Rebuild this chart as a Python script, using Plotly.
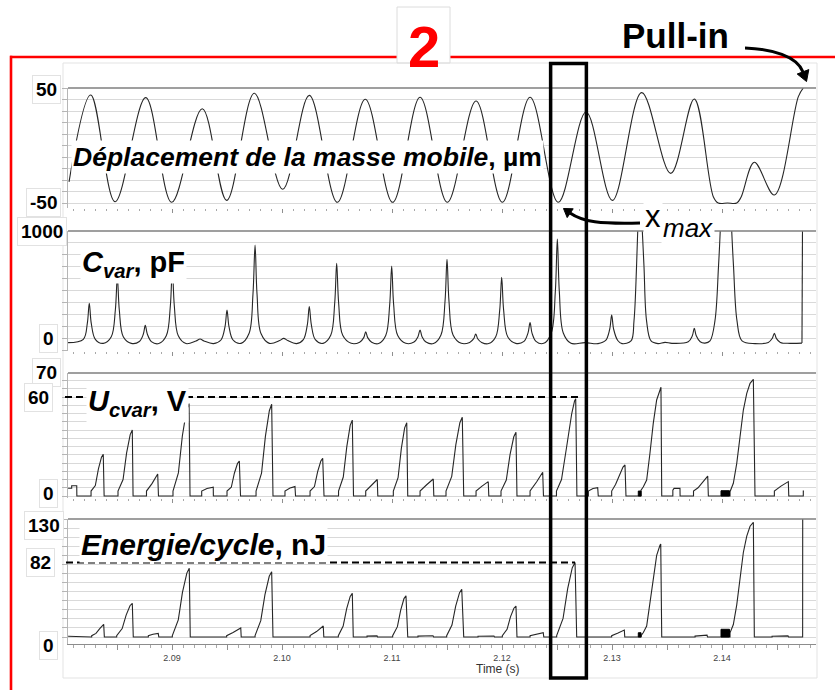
import plotly.graph_objects as go

W, H = 835, 690
FONT = "Liberation Sans, Arial, Helvetica, sans-serif"

# ---------------- data ----------------
# Displacement of the moving mass (um): turning points of the oscillation
disp_t = [2.08064, 2.08261, 2.08482, 2.08761, 2.08997, 2.09275, 2.09497, 2.09748,
          2.10006, 2.10248, 2.10503, 2.10757, 2.11006, 2.11255, 2.11503, 2.11764,
          2.12003, 2.12255, 2.12512, 2.12764, 2.13003, 2.13270, 2.13534, 2.13748,
          2.13921, 2.13966, 2.14050, 2.14134, 2.14173, 2.14294, 2.14476, 2.14694, 2.14739]
disp_um = [-31.7, 43.9, -48.9, 41.6, -49.4, 32.0, -47.7, 45.4,
           -38.0, 43.6, -49.4, 40.2, -49.4, 42.0, -49.4, 38.7,
           -49.4, 41.9, -49.4, 29.1, -47.7, 46.0, -24.2, 40.4,
           -44.5, -50.0, -50.0, -50.0, -45.0, -14.6, -43.0, 42.5, 50.0]

# Variable capacitance (pF)
cvar_t = [
    2.08055,
    2.08194, 2.08230, 2.08248, 2.08266, 2.08303,
    2.08375,
    2.08448, 2.08485, 2.08503, 2.08521, 2.08557,
    2.08630,
    2.08703, 2.08739, 2.08757, 2.08776, 2.08812,
    2.08880,
    2.08948, 2.08985, 2.09003, 2.09021, 2.09057,
    2.09127,
    2.09218, 2.09255, 2.09291,
    2.09377,
    2.09445, 2.09482, 2.09500, 2.09518, 2.09555,
    2.09627,
    2.09700, 2.09736, 2.09755, 2.09773, 2.09809,
    2.09885,
    2.09979, 2.10015, 2.10052,
    2.10132,
    2.10194, 2.10230, 2.10248, 2.10267, 2.10303,
    2.10373,
    2.10443, 2.10479, 2.10497, 2.10515, 2.10552,
    2.10629,
    2.10706, 2.10743, 2.10761, 2.10779, 2.10815,
    2.10879,
    2.10943, 2.10979, 2.10997, 2.11015, 2.11052,
    2.11125,
    2.11200, 2.11236, 2.11255, 2.11273, 2.11309,
    2.11377,
    2.11445, 2.11482, 2.11500, 2.11518, 2.11555,
    2.11630,
    2.11706, 2.11743, 2.11761, 2.11779, 2.11815,
    2.11879,
    2.11943, 2.11979, 2.11997, 2.12015, 2.12052,
    2.12125,
    2.12200, 2.12236, 2.12255, 2.12273, 2.12309,
    2.12379,
    2.12448, 2.12485, 2.12503, 2.12521, 2.12557,
    2.12627, 2.12755, 2.12873,
    2.12942, 2.12979, 2.12997, 2.13015, 2.13052,
    2.13091,
    2.13173, 2.13200, 2.13223, 2.13236, 2.13255, 2.13273, 2.13291, 2.13314, 2.13355,
    2.13418, 2.13482, 2.13545,
    2.13693, 2.13730, 2.13748, 2.13766, 2.13802,
    2.13845,
    2.13891, 2.13936, 2.13968, 2.13986, 2.14036, 2.14086, 2.14105, 2.14136, 2.14182,
    2.14300,
    2.14421, 2.14457, 2.14476, 2.14494, 2.14530,
    2.14618, 2.14727, 2.14734,
]
cvar_pf = [
    66,
    94, 227, 395, 227, 94,
    60,
    116, 339, 618, 339, 116,
    60,
    75, 136, 211, 136, 75,
    58,
    123, 375, 690, 375, 123,
    58,
    80, 96, 80,
    58,
    88, 200, 339, 200, 88,
    60,
    142, 472, 883, 472, 142,
    60,
    83, 102, 83,
    58,
    91, 214, 367, 214, 91,
    60,
    127, 395, 730, 395, 127,
    60,
    70, 108, 157, 108, 70,
    58,
    125, 384, 707, 384, 125,
    60,
    71, 116, 172, 116, 71,
    58,
    130, 412, 763, 412, 130,
    60,
    68, 99, 138, 99, 68,
    58,
    115, 336, 612, 336, 115,
    60,
    77, 146, 233, 146, 77,
    60,
    147, 497, 933, 497, 147,
    60, 66, 58,
    84, 178, 297, 178, 84,
    58,
    80, 250, 700, 1050, 1400, 1050, 700, 250, 80,
    58, 68, 60,
    73, 123, 186, 123, 73,
    62,
    80, 250, 700, 1050, 2500, 1050, 700, 250, 80,
    58,
    68, 102, 144, 102, 68,
    60, 62, 1500,
]

# Voltage across Cvar (V)
ucvar_t = [
    2.08055, 2.08088, 2.08088, 2.08134, 2.08135,
    2.08264, 2.08264, 2.08303, 2.08331, 2.08359, 2.08375, 2.08383,
    2.08509, 2.08509, 2.08555, 2.08587, 2.08620, 2.08639, 2.08646,
    2.08768, 2.08768, 2.08818, 2.08870, 2.08877,
    2.09009, 2.09009, 2.09058, 2.09094, 2.09132, 2.09155, 2.09164,
    2.09270, 2.09270, 2.09318, 2.09375, 2.09376,
    2.09500, 2.09500, 2.09539, 2.09567, 2.09595, 2.09612, 2.09623,
    2.09764, 2.09764, 2.09814, 2.09849, 2.09885, 2.09906, 2.09918,
    2.10027, 2.10027, 2.10073, 2.10118, 2.10123,
    2.10255, 2.10255, 2.10295, 2.10324, 2.10353, 2.10370, 2.10382,
    2.10514, 2.10514, 2.10557, 2.10589, 2.10620, 2.10639, 2.10650,
    2.10761, 2.10761, 2.10814, 2.10866, 2.10871,
    2.11012, 2.11012, 2.11055, 2.11085, 2.11115, 2.11134, 2.11143,
    2.11255, 2.11255, 2.11315, 2.11375, 2.11380,
    2.11491, 2.11491, 2.11543, 2.11580, 2.11617, 2.11639, 2.11652,
    2.11764, 2.11764, 2.11818, 2.11875, 2.11880,
    2.11991, 2.11991, 2.12039, 2.12073, 2.12107, 2.12127, 2.12136,
    2.12255, 2.12255, 2.12314, 2.12370, 2.12377,
    2.12495, 2.12495, 2.12541, 2.12588, 2.12634, 2.12659, 2.12670, 2.12681,
    2.12785, 2.12785, 2.12827, 2.12870, 2.12875,
    2.12997, 2.12997, 2.13032, 2.13068, 2.13100, 2.13118, 2.13127,
    2.13264, 2.13264, 2.13285, 2.13315, 2.13345, 2.13375, 2.13406, 2.13436, 2.13445, 2.13452,
    2.13553, 2.13553, 2.13564, 2.13618, 2.13619,
    2.13741, 2.13741, 2.13782, 2.13827, 2.13870, 2.13876,
    2.14073, 2.14073, 2.14103, 2.14134, 2.14164, 2.14194, 2.14225, 2.14255, 2.14285, 2.14300,
    2.14476, 2.14476, 2.14536, 2.14603, 2.14607,
    2.14739, 2.14739, 2.14745,
]
ucvar_v = [
    4.7, 4.7, 6.2, 6.2, 0,
    0, 3, 6.3, 16.4, 23.5, 25.3, 0,
    0, 3, 10, 26, 37.2, 40, 0,
    0, 3, 7.5, 13.3, 0,
    0, 3, 14, 36.4, 52, 56, 0,
    0, 3, 4.5, 5.3, 0,
    0, 3, 5.3, 13.8, 19.7, 21.2, 0,
    0, 3, 13.9, 36.1, 51.7, 55.6, 0,
    0, 3, 4.8, 5.7, 0,
    0, 3, 5.7, 14.8, 21.2, 22.8, 0,
    0, 3, 11.5, 29.9, 42.8, 46, 0,
    0, 3, 6.5, 10, 0,
    0, 3, 11.1, 28.9, 41.3, 44.4, 0,
    0, 3, 6.8, 10.3, 0,
    0, 3, 11.9, 31, 44.4, 47.7, 0,
    0, 3, 6, 8.7, 0,
    0, 3, 9.7, 25.1, 35.9, 38.6, 0,
    0, 3, 8.5, 14.4, 0,
    0, 3, 10, 30, 50, 57.5, 59, 0,
    0, 3, 4.6, 5, 0,
    0, 3, 7, 13, 17.5, 18.8, 0,
    0, 3.5, 5.6, 9.7, 25.9, 44, 58.2, 65.3, 65.9, 0,
    0, 3.6, 4.6, 4.6, 0,
    0, 3, 5, 9, 12.1, 0,
    0, 2.6, 7.7, 19.8, 35.9, 52.1, 62.2, 68.3, 70.7, 0,
    0, 3, 6, 8.7, 0,
    0, 3, 3,
]

# Harvested energy per cycle (nJ)
energy_t = [
    2.08055, 2.08100, 2.08101,
    2.08270, 2.08270, 2.08309, 2.08345, 2.08379, 2.08385,
    2.08497, 2.08497, 2.08547, 2.08583, 2.08618, 2.08639, 2.08648,
    2.08785, 2.08785, 2.08827, 2.08875, 2.08880,
    2.09003, 2.09003, 2.09057, 2.09095, 2.09135, 2.09157, 2.09166,
    2.09497, 2.09497, 2.09555, 2.09625, 2.09629,
    2.09755, 2.09755, 2.09807, 2.09845, 2.09884, 2.09906, 2.09918,
    2.10255, 2.10255, 2.10314, 2.10375, 2.10380,
    2.10512, 2.10512, 2.10556, 2.10588, 2.10620, 2.10639, 2.10648,
    2.10773, 2.10773, 2.10864, 2.10868,
    2.11006, 2.11006, 2.11049, 2.11079, 2.11109, 2.11127, 2.11143,
    2.11236, 2.11236, 2.11373, 2.11378,
    2.11497, 2.11497, 2.11545, 2.11579, 2.11614, 2.11634, 2.11652,
    2.11782, 2.11782, 2.11927, 2.11932,
    2.12003, 2.12003, 2.12046, 2.12077, 2.12108, 2.12127, 2.12136,
    2.12255, 2.12255, 2.12318, 2.12375, 2.12380,
    2.12497, 2.12497, 2.12555, 2.12597, 2.12639, 2.12664, 2.12679,
    2.12997, 2.12997, 2.13055, 2.13112, 2.13116,
    2.13264, 2.13264, 2.13285, 2.13315, 2.13345, 2.13375, 2.13406, 2.13436, 2.13443, 2.13452,
    2.13755, 2.13755, 2.13864, 2.13868,
    2.14073, 2.14073, 2.14103, 2.14134, 2.14164, 2.14194, 2.14225, 2.14255, 2.14285, 2.14294,
    2.14455, 2.14455, 2.14600, 2.14605,
    2.14733, 2.14734,
]
energy_nj = [
    0.8, 0.8, 0,
    0, 1.5, 4, 9.5, 14, 0,
    0, 1.5, 9.3, 24.1, 34.5, 37.1, 0,
    0, 1.5, 3, 4, 0,
    0, 1.5, 18.9, 49.2, 70.4, 75.7, 0,
    0, 1.5, 5, 9.9, 0,
    0, 1.5, 18, 46.7, 66.9, 71.9, 0,
    0, 1.5, 6, 12.1, 0,
    0, 1.5, 12, 31.3, 44.7, 48.1, 0,
    0, 1, 1.2, 0,
    0, 1.5, 11.4, 29.6, 42.3, 45.5, 0,
    0, 1, 1.3, 0,
    0, 1.5, 13.1, 34.1, 48.8, 52.5, 0,
    0, 0.8, 1, 0,
    0, 1.5, 8.5, 22.2, 31.7, 34.1, 0,
    0, 1.5, 3.5, 4.7, 0,
    0, 1.5, 20.5, 53.3, 76.3, 82, 0,
    0, 1.5, 4.5, 7.7, 0,
    0, 1.5, 5, 12, 38, 68, 90, 101, 102.4, 0,
    0, 1, 2, 0,
    0, 4.7, 13.8, 35.4, 64.2, 93.1, 111.1, 122, 126.3, 0,
    0, 0.8, 1.2, 0,
    0, 200,
]

# Fast switching bursts (drawn as solid blocks)
burst_t0 = [2.13239, 2.13991]
burst_t1 = [2.13264, 2.14068]
burst_u_top = [3.0, 3.2]
burst_e_top = [4.7, 8.5]

# Observation window around the maximum displacement cycle
window_t = [2.12442, 2.12767]

# Axes
x_range = [2.080545, 2.148545]
disp_range = [-54.35, 50]
cvar_range = [-4, 1000]
ucvar_range = [-1.21, 74.55]
energy_range = [-7.71, 130]
u_ref = 60
e_ref = 82
time_major = [2.085, 2.09, 2.095, 2.10, 2.105, 2.11, 2.115, 2.12, 2.125, 2.13, 2.135, 2.14, 2.145]
time_labels = ['', '2.09', '', '2.10', '', '2.11', '', '2.12', '', '2.13', '', '2.14', '']


# ---------------- helpers (pixel -> paper fraction) ----------------
def px_x(px):
    return px / W


def px_y(py):
    return 1 - py / H


ids = ['', '2', '3', '4']
fig = go.Figure()
line_style = dict(color='#262626', width=1.1)


def add_line(t, v, k, shape='linear'):
    fig.add_trace(go.Scatter(
        x=t, y=v, mode='lines', line=dict(line_style, shape=shape),
        xaxis='x' + ids[k], yaxis='y' + ids[k],
        hoverinfo='skip', showlegend=False))


add_line(disp_t, disp_um, 0, 'spline')
# smooth resonance peaks, then the straight pull-in jump at the end
add_line(cvar_t[:-1], cvar_pf[:-1], 1, 'spline')
add_line(cvar_t[-2:], cvar_pf[-2:], 1)
add_line(ucvar_t, ucvar_v, 2)
add_line(energy_t, energy_nj, 3)

for tops, k in ((burst_u_top, 2), (burst_e_top, 3)):
    for a, b, top in zip(burst_t0, burst_t1, tops):
        fig.add_trace(go.Scatter(
            x=[a, a, b, b, a], y=[0, top, top, 0, 0], mode='lines',
            fill='toself', fillcolor='black', line=dict(color='black', width=1),
            xaxis='x' + ids[k], yaxis='y' + ids[k],
            hoverinfo='skip', showlegend=False))

# ---------------- layout ----------------
panel_px = [(88, 208), (231, 351), (373, 498), (519, 644)]
y_ranges = [disp_range, cvar_range, ucvar_range, energy_range]
y_steps = [10, 100, 5, 10]
y_tick0 = [-50, 0, 0, 0]

layout = dict(width=W, height=H, margin=dict(l=0, r=0, t=0, b=0),
              paper_bgcolor='white', plot_bgcolor='rgba(0,0,0,0)',
              showlegend=False, font=dict(family=FONT))

for k in range(4):
    bottom = (k == 3)
    xa = dict(domain=[px_x(68), px_x(816)], range=x_range, anchor='y' + ids[k],
              showgrid=False, zeroline=False,
              tickmode='array', tickvals=time_major, ticktext=time_labels,
              ticks='outside', ticklen=5 if bottom else 4, tickcolor='#8f8f8f', tickwidth=1,
              minor=dict(ticks='outside', ticklen=3 if bottom else 2, tickmode='linear',
                         tick0=2.08, dtick=0.001, tickcolor='#a8a8a8', showgrid=False),
              showticklabels=bottom, showline=bottom, linecolor='#8c8c8c',
              tickfont=dict(size=9, color='#444444', family=FONT))
    if k > 0:
        xa['matches'] = 'x'
    top_px, bot_px = panel_px[k]
    ya = dict(domain=[px_y(bot_px), px_y(top_px)], range=y_ranges[k], anchor='x' + ids[k],
              tickmode='linear', tick0=y_tick0[k], dtick=y_steps[k],
              showgrid=True, gridcolor='#d9d9d9', gridwidth=1, zeroline=False,
              showticklabels=False, ticks='outside', ticklen=5, tickcolor='#b5b5b5',
              showline=True, linecolor='#b5b5b5', linewidth=1)
    layout['xaxis' + ids[k]] = xa
    layout['yaxis' + ids[k]] = ya

shapes = []
# darker top border of each panel
for k in range(4):
    shapes.append(dict(type='line', xref='x' + ids[k] + ' domain', yref='y' + ids[k] + ' domain',
                       x0=0, x1=1, y0=1, y1=1, line=dict(color='#7f7f7f', width=1.3)))

# reference levels
shapes.append(dict(type='line', xref='paper', yref='y3', x0=px_x(65), x1=px_x(579),
                   y0=u_ref, y1=u_ref, line=dict(color='black', width=2, dash='7px,4px')))
shapes.append(dict(type='line', xref='paper', yref='y4', x0=px_x(66), x1=px_x(575),
                   y0=e_ref, y1=e_ref, line=dict(color='black', width=2, dash='7px,4px')))

# outer light frame of the scope window
shapes.append(dict(type='rect', xref='paper', yref='paper', x0=px_x(63), x1=px_x(817),
                   y0=px_y(678), y1=px_y(63), line=dict(color='#e3e3e3', width=1), layer='below'))

# red frame
red = dict(color='#ff0000', width=2.6)
shapes.append(dict(type='line', xref='paper', yref='paper', x0=px_x(10), x1=px_x(397),
                   y0=px_y(57), y1=px_y(57), line=red))
shapes.append(dict(type='line', xref='paper', yref='paper', x0=px_x(450), x1=1,
                   y0=px_y(57), y1=px_y(57), line=red))
shapes.append(dict(type='line', xref='paper', yref='paper', x0=px_x(11), x1=px_x(11),
                   y0=px_y(55.7), y1=0, line=red))

# box around the panel number
shapes.append(dict(type='rect', xref='paper', yref='paper', x0=px_x(397), x1=px_x(450),
                   y0=px_y(63), y1=px_y(7), line=dict(color='#dcdcdc', width=1)))

# highlighted time window
shapes.append(dict(type='rect', xref='x', yref='paper', x0=window_t[0], x1=window_t[1],
                   y0=px_y(678), y1=px_y(63.5), line=dict(color='black', width=3.5)))


def pt(x, y):
    return f"{px_x(x):.5f},{px_y(y):.5f}"


# Pull-in arrow
shapes.append(dict(type='path', xref='paper', yref='paper',
                   path=f"M {pt(745, 48)} C {pt(772, 49)} {pt(797, 56)} {pt(803, 72)}",
                   line=dict(color='black', width=3), fillcolor='rgba(0,0,0,0)'))
shapes.append(dict(type='path', xref='paper', yref='paper',
                   path=f"M {pt(806.5, 81.5)} L {pt(808.8, 69.6)} L {pt(797.2, 74.0)} Z",
                   line=dict(color='black', width=1), fillcolor='black'))
# x_max arrow
shapes.append(dict(type='path', xref='paper', yref='paper',
                   path=f"M {pt(640, 223)} C {pt(600, 224)} {pt(583, 222)} {pt(570, 213)}",
                   line=dict(color='black', width=3), fillcolor='rgba(0,0,0,0)'))
shapes.append(dict(type='path', xref='paper', yref='paper',
                   path=f"M {pt(563.5, 208.5)} L {pt(573.2, 208.8)} L {pt(567.2, 217.6)} Z",
                   line=dict(color='black', width=1), fillcolor='black'))

layout['shapes'] = shapes

ann = []
# value labels on the left
value_labels = [
    ("50", 'y', 50, 46.5, -2), ("-50", 'y', -50, 43, 0),
    ("1000", 'y2', 1000, 42, 0), ("0", 'y2', 0, 48, 12),
    ("70", 'y3', 70, 46.5, 8), ("60", 'y3', 60, 38.5, 0), ("0", 'y3', 0, 48, 3),
    ("130", 'y4', 130, 43.5, -6), ("82", 'y4', 82, 40, 0), ("0", 'y4', 0, 48, -8),
]
for txt, yref, val, xc, ysh in value_labels:
    ann.append(dict(text=f"<b>{txt}</b>", xref='paper', yref=yref, x=px_x(xc), y=val,
                    yshift=ysh, xanchor='center', yanchor='middle', showarrow=False,
                    font=dict(size=19, color='black', family=FONT),
                    bgcolor='white', bordercolor='#e2e2e2', borderwidth=1, borderpad=3))

# panel titles
titles = [
    ("<b><i>Déplacement de la masse mobile</i>, µm</b>", 26.5, 71, 156.5),
    ("<b><i>C<sub>var</sub></i>, pF</b>", 29, 80, 264),
    ("<b><i>U<sub>cvar</sub></i>, V</b>", 29, 86, 403),
    ("<b><i>Energie/cycle</i>, nJ</b>", 30, 79, 544.5),
]
for txt, size, xl, yc in titles:
    ann.append(dict(text=txt, xref='paper', yref='paper', x=px_x(xl), y=px_y(yc),
                    xanchor='left', yanchor='middle', showarrow=False,
                    font=dict(size=size, color='black', family=FONT),
                    bgcolor='white', borderpad=1))

ann.append(dict(text="<b>Pull-in</b>", xref='paper', yref='paper', x=px_x(675), y=px_y(35),
                xanchor='center', yanchor='middle', showarrow=False,
                font=dict(size=35, color='black', family=FONT)))
ann.append(dict(text="x", xref='paper', yref='paper', x=px_x(652.5), y=px_y(216.8),
                xanchor='center', yanchor='middle', showarrow=False,
                font=dict(size=31, color='black', family=FONT), bgcolor='white', borderpad=1))
ann.append(dict(text="<i>max</i>", xref='paper', yref='paper', x=px_x(688), y=px_y(228),
                xanchor='center', yanchor='middle', showarrow=False,
                font=dict(size=26, color='black', family=FONT), bgcolor='white', borderpad=1))
ann.append(dict(text="<b>2</b>", xref='paper', yref='paper', x=px_x(424), y=px_y(46.5),
                xanchor='center', yanchor='middle', showarrow=False,
                font=dict(size=58, color='#ff0000', family=FONT)))
ann.append(dict(text="Time (s)", xref='paper', yref='paper', x=px_x(498), y=px_y(668.5),
                xanchor='center', yanchor='middle', showarrow=False,
                font=dict(size=12, color='#333333', family=FONT)))

layout['annotations'] = ann
fig.update_layout(**layout)
fig.write_html("out.html")
